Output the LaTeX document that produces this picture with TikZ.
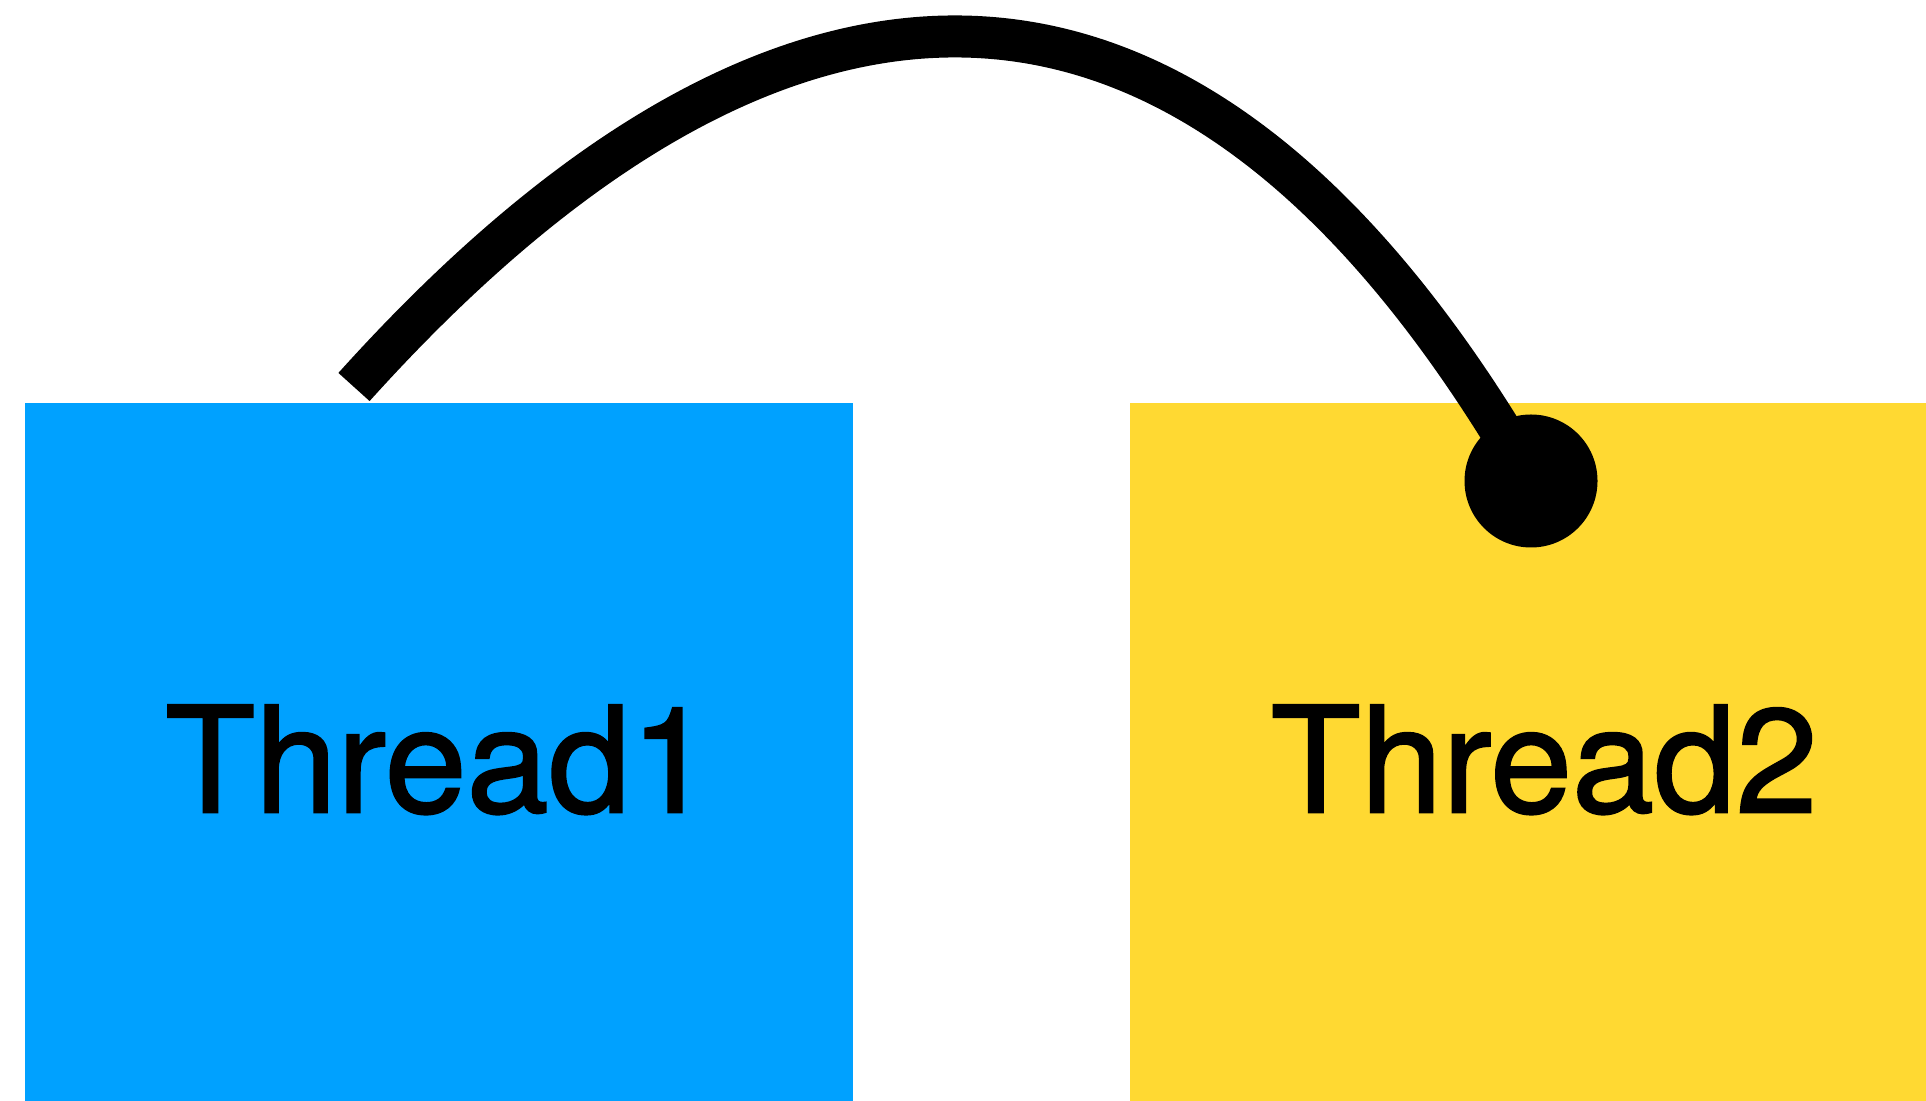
\documentclass[tikz,border=0pt]{standalone}
\usepackage{fontspec}
\setmainfont[FakeBold=1.5]{TeX Gyre Heros}
\usepackage{xcolor}
\usepackage{tikz}
\usetikzlibrary{positioning}
\definecolor{threadblue}{RGB}{0,161,255}
\definecolor{threadyellow}{RGB}{255,217,50}
\tikzset{
  thread/.style={rectangle, draw=none, minimum width=8.28cm, minimum height=7.14cm, inner sep=0pt, font=\fontsize{41.9}{50}\selectfont},
  hookdot/.style={circle, fill=black, minimum size=1.33cm, inner sep=0pt},
  wire/.style={line width=0.42cm, line cap=butt},
}
\begin{document}
\begin{tikzpicture}
  \useasboundingbox (0,0) rectangle (19.26,-11.01);
  \clip (0,0) rectangle (19.26,-11.01);
  \node[thread, fill=threadblue, anchor=north west] (t1) at (0.24,-4.02) {Thread1};
  \node[thread, fill=threadyellow, right=2.76cm of t1] (t2) {Thread2};
  \coordinate (grip) at (3.54,-3.87);
  \node[hookdot] (hook) at (15.31,-4.81) {};
  \draw[wire] (grip) .. controls (7.15,0.14) and (11.51,1.77) .. (hook.center);
\end{tikzpicture}
\end{document}
